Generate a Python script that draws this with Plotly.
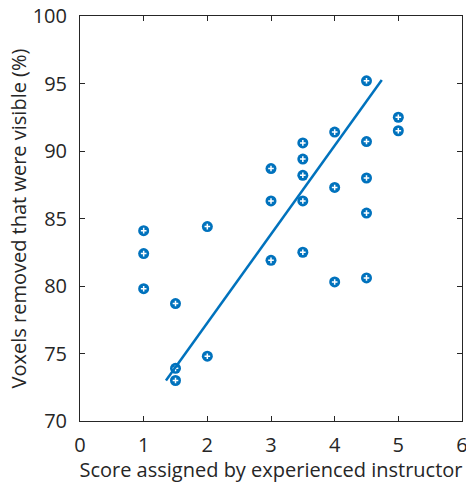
import plotly.graph_objects as go

score = [1, 1, 1, 1.5, 1.5, 1.5, 2, 2, 3, 3, 3,
         3.5, 3.5, 3.5, 3.5, 3.5, 4, 4, 4,
         4.5, 4.5, 4.5, 4.5, 4.5, 5, 5]
voxels = [84.1, 82.4, 79.8, 78.7, 73.9, 73.0, 84.4, 74.8, 88.7, 86.3, 81.9,
          90.6, 89.4, 88.2, 86.3, 82.5, 91.4, 87.3, 80.3,
          95.2, 90.7, 88.0, 85.4, 80.6, 92.5, 91.5]
fit_x = [1.35, 4.74]
fit_y = [73.0, 95.26]

blue = "#0072BD"
axis_col = "#262626"
font = "'Open Sans', sans-serif"

fig = go.Figure()
fig.add_trace(go.Scatter(x=score, y=voxels, mode="markers",
                         marker=dict(symbol="circle", size=11, color=blue,
                                     line=dict(width=0)),
                         showlegend=False, hoverinfo="skip"))
fig.add_trace(go.Scatter(x=score, y=voxels, mode="markers",
                         marker=dict(symbol="cross-thin-open", size=4, color="white",
                                     line=dict(width=1.5, color="white")),
                         showlegend=False, hoverinfo="skip"))
fig.add_trace(go.Scatter(x=fit_x, y=fit_y, mode="lines",
                         line=dict(color=blue, width=2.5),
                         showlegend=False, hoverinfo="skip"))

axis_common = dict(showgrid=False, zeroline=False, showline=True,
                   linecolor=axis_col, linewidth=1, mirror="ticks",
                   ticks="inside", ticklen=5, tickwidth=1, tickcolor=axis_col,
                   ticklabeloverflow="allow",
                   tickfont=dict(family=font, size=20, color=axis_col))

fig.update_layout(
    width=466, height=483,
    margin=dict(l=80, r=4, t=16, b=62),
    paper_bgcolor="white", plot_bgcolor="white",
    font=dict(family=font, color=axis_col),
    xaxis=dict(range=[0, 6], dtick=1, tick0=0,
               automargin="bottom",
               title=dict(text="Score assigned by experienced instructor",
                          font=dict(family=font, size=20, color=axis_col),
                          standoff=2),
               ticklabelstandoff=6,
               **axis_common),
    yaxis=dict(range=[70, 100], dtick=5, tick0=70,
               automargin="left",
               title=dict(text="Voxels removed that were visible (%)",
                          font=dict(family=font, size=20, color=axis_col),
                          standoff=0),
               ticklabelstandoff=8,
               **axis_common),
)

fig.write_html("out.html")
